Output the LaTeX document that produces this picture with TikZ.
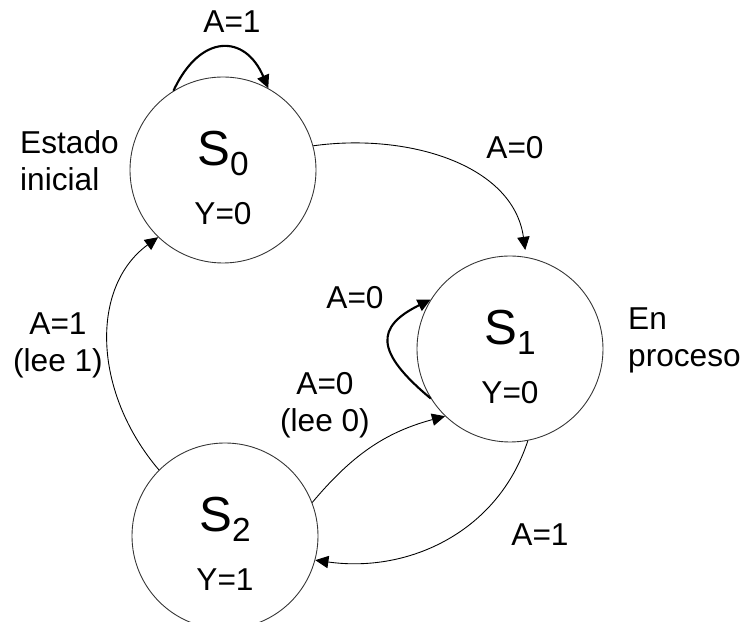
\documentclass[tikz,border=0pt]{standalone}
\usepackage{fontspec}
\setmainfont{Liberation Sans}
\usepackage{tikz}
\usetikzlibrary{arrows.meta,positioning}
\newcommand{\Sname}[1]{{\fontsize{28}{28}\selectfont S\raisebox{-.2cm}{\fontsize{19}{19}\selectfont #1}}}

\begin{document}
\begin{tikzpicture}[>={Triangle[length=7.5pt,width=7pt]},
  st/.style={draw=black!80,circle,minimum size=3.72cm,inner sep=0pt,line width=0.5pt},
  lbl/.style={font=\fontsize{18}{21}\selectfont,align=center},
  tr/.style={->,line width=0.5pt},
  lp/.style={->,line width=1.2pt}]
  \useasboundingbox (0,0) rectangle (14.88,12.44);
  % states
  \node[st] (s0) at (4.46,9.04) {};
  \node[st] (s1) at (10.2,5.46) {};
  \node[st] (s2) at (4.5,1.72) {};
  \foreach \s/\k/\y in {s0/0/0,s1/1/0,s2/2/1} {
    \node[lbl] (\s name) at ([yshift=.34cm]\s.center) {\Sname{\k}};
    \node[lbl] (\s out) at ([yshift=-.88cm]\s.center) {Y=\y};
  }
  \node[lbl,align=left,anchor=west] (ini) at (0.28,9.22) {Estado\\inicial};
  \node[lbl,align=left,anchor=west] (pro) at (12.44,5.64) {En\\proceso};
  % transitions
  \draw[lp] (s0.122) .. controls (4.0,11.77) and (4.9,11.77) .. (s0.61);
  \node[lbl] (a00) at (4.64,12.0) {A=1};
  \draw[tr,shorten >=4pt] (s0.15) to[out=8,in=98] (s1.80);
  \node[lbl] (a01) at (10.3,9.48) {A=0};
  \draw[lp] (s1.212) .. controls (7.5,5.4) and (7.5,5.9) .. (s1.148);
  \node[lbl] (a11) at (7.1,6.48) {A=0};
  \draw[tr] (s2.21) to[out=50,in=195] (s1.226);
  \node[lbl] (a21) at (6.5,4.34) {A=0\\(lee 0)};
  \draw[tr] (s1.281) to[out=252,in=-8] (s2.345);
  \node[lbl] (a12) at (10.8,1.74) {A=1};
  \draw[tr] (s2.135) .. controls (1.85,4.6) and (1.8,6.7) .. (s0.226);
  \node[lbl] (a20) at (1.16,5.54) {A=1\\(lee 1)};
\end{tikzpicture}
\end{document}
